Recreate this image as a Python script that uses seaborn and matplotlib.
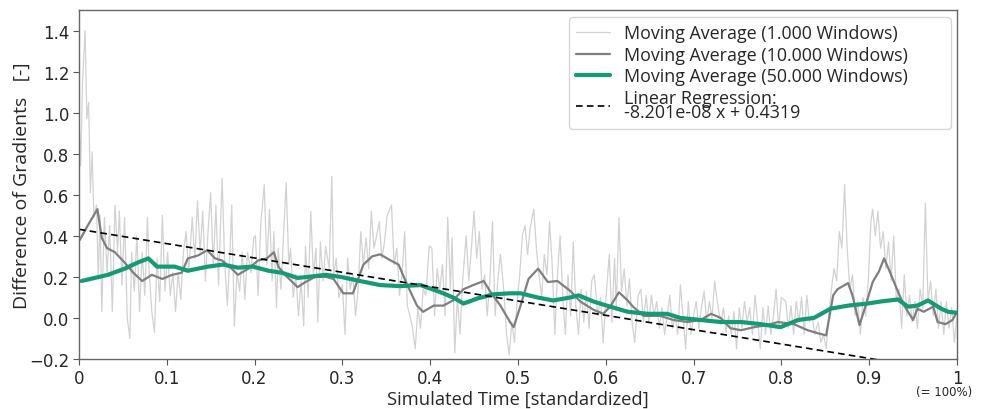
import numpy as np
import pandas as pd
import matplotlib
matplotlib.use("Agg")
import matplotlib.pyplot as plt
import seaborn as sns

# ---------------- data ----------------
ma1000_x = [0.0006, 0.002, 0.004, 0.007, 0.009, 0.011, 0.013, 0.015, 0.017, 0.020, 0.022, 0.024, 0.026, 0.029,
            0.032, 0.035, 0.038, 0.041, 0.044, 0.046, 0.049, 0.052, 0.055, 0.058, 0.060, 0.063, 0.066, 0.069,
            0.072, 0.075, 0.078, 0.080, 0.083, 0.086, 0.089, 0.092, 0.095, 0.098, 0.101, 0.104, 0.107, 0.110,
            0.113, 0.116, 0.119, 0.122, 0.125, 0.129, 0.132, 0.135, 0.138, 0.141, 0.144, 0.147, 0.150, 0.153,
            0.156, 0.159, 0.163, 0.166, 0.169, 0.172, 0.174, 0.177, 0.180, 0.183, 0.186, 0.189, 0.192, 0.196,
            0.199,
            0.201, 0.204, 0.207, 0.211, 0.214, 0.217, 0.220, 0.222, 0.225, 0.227, 0.230, 0.233, 0.236, 0.239,
            0.241, 0.244, 0.247, 0.250, 0.253, 0.256, 0.258, 0.261, 0.264, 0.267, 0.270, 0.272, 0.275, 0.278,
            0.281, 0.285, 0.288, 0.290, 0.293, 0.296, 0.300, 0.303, 0.306, 0.309, 0.312, 0.315, 0.318, 0.321,
            0.324, 0.327, 0.330, 0.333, 0.336, 0.339, 0.342, 0.345, 0.348, 0.351, 0.356, 0.359, 0.362, 0.365,
            0.368, 0.371, 0.374, 0.377, 0.380, 0.383, 0.386, 0.389, 0.392, 0.395, 0.399,
            0.402, 0.405, 0.408, 0.411, 0.414, 0.417, 0.420, 0.423, 0.425, 0.428, 0.431, 0.434, 0.437, 0.441,
            0.444, 0.447, 0.450, 0.453, 0.456, 0.459, 0.462, 0.465, 0.468, 0.471, 0.474, 0.477, 0.480, 0.484,
            0.487, 0.490, 0.493, 0.496, 0.499, 0.502, 0.505, 0.508, 0.511, 0.514, 0.518, 0.521, 0.524, 0.527,
            0.530, 0.533, 0.536, 0.539, 0.542, 0.545, 0.548, 0.551, 0.554, 0.557, 0.560, 0.563, 0.566, 0.569,
            0.572, 0.575, 0.578, 0.581, 0.584, 0.587, 0.591, 0.594, 0.597, 0.600,
            0.604, 0.607, 0.610, 0.612, 0.615, 0.618, 0.621, 0.624, 0.627, 0.630, 0.633, 0.637, 0.640, 0.643,
            0.646, 0.649, 0.652, 0.655, 0.658, 0.661, 0.664, 0.667, 0.670, 0.673, 0.676, 0.679, 0.682, 0.685,
            0.688, 0.691, 0.694, 0.697, 0.700, 0.703, 0.706, 0.709, 0.712, 0.715, 0.718, 0.721, 0.724, 0.727,
            0.731, 0.734, 0.737, 0.740, 0.743, 0.746, 0.749, 0.752, 0.755, 0.758, 0.761, 0.764, 0.767, 0.770,
            0.773, 0.776, 0.779, 0.782, 0.785, 0.788, 0.791, 0.794, 0.797, 0.800,
            0.805, 0.808, 0.811, 0.814, 0.817, 0.820, 0.823, 0.826, 0.829, 0.832, 0.835, 0.838, 0.842, 0.845,
            0.848, 0.851, 0.854, 0.857, 0.860, 0.863, 0.866, 0.869, 0.872, 0.875, 0.878, 0.881, 0.884, 0.887,
            0.890, 0.893, 0.896, 0.899, 0.902, 0.904, 0.907, 0.910, 0.913, 0.916, 0.919, 0.922, 0.925, 0.928,
            0.931, 0.934, 0.937, 0.940, 0.943, 0.946, 0.949, 0.952, 0.955, 0.958, 0.961, 0.964, 0.967, 0.970,
            0.973, 0.976, 0.979, 0.982, 0.985, 0.988, 0.991, 0.994, 0.997, 1.000]
ma1000_y = [0.92, 0.74, 1.14, 1.40, 0.97, 1.05, 0.61, 0.81, 0.49, 0.55, 0.19, 0.50, 0.03, 0.49,
            0.22, 0.45, 0.03, 0.55, 0.32, 0.52, 0.16, 0.49, 0.00, -0.10, 0.32, 0.13, 0.40, 0.03,
            0.32, 0.11, 0.49, 0.22, 0.03, -0.07, 0.29, 0.08, 0.50, 0.13, 0.32, 0.11, 0.22, 0.03,
            0.22, 0.09, 0.32, 0.42, 0.22, 0.49, 0.29, 0.57, 0.32, 0.52, 0.18, 0.42, 0.61, 0.25,
            0.55, 0.16, 0.68, 0.27, 0.06, 0.32, 0.55, -0.04, 0.22, 0.13, 0.32, 0.09, 0.32, 0.22,
            0.39,
            0.40, 0.11, 0.45, 0.65, 0.26, 0.53, 0.18, 0.42, 0.05, 0.34, 0.14, 0.40, 0.66, 0.26,
            0.34, 0.10, 0.21, 0.01, 0.18, -0.04, 0.35, 0.10, 0.52, 0.21, 0.34, -0.02, 0.37, 0.18,
            0.35, 0.24, 0.69, 0.21, 0.29, 0.10, 0.16, -0.08, 0.29, 0.14, 0.21, 0.01, 0.14, 0.42,
            0.26, 0.39, 0.24, 0.52, 0.34, 0.40, 0.47, 0.29, 0.37, 0.50, 0.55, 0.26, 0.34, 0.11,
            0.21, 0.42, 0.06, 0.01, -0.05, -0.15, 0.05, -0.05, 0.14, 0.11, 0.35,
            0.34, 0.01, 0.24, 0.14, 0.26, 0.01, 0.49, 0.14, 0.39, -0.17, 0.10, -0.08, 0.18, 0.40,
            0.18, 0.34, 0.52, 0.29, 0.42, 0.14, 0.21, 0.01, 0.18, 0.47, 0.01, 0.18, 0.31, 0.13,
            -0.08, -0.18, -0.02, -0.12, 0.08, 0.21, 0.40, 0.45, 0.31, 0.44, 0.53, 0.34, 0.21, 0.10,
            0.31, 0.21, 0.47, 0.26, -0.08, 0.21, 0.40, 0.10, -0.08, 0.21, 0.01, 0.37, 0.05, -0.08,
            0.14, -0.02, 0.13, -0.05, 0.18, 0.21, 0.01, 0.10, -0.12, 0.08,
            0.31, -0.02, 0.29, 0.05, 0.49, 0.13, 0.24, 0.06, 0.19, -0.02, -0.12, 0.11, 0.14, -0.02,
            0.11, -0.02, 0.11, 0.01, 0.08, -0.05, 0.05, -0.08, 0.01, 0.11, -0.05, 0.01, -0.08, 0.16,
            0.01, -0.15, 0.08, -0.08, 0.01, 0.08, -0.05, 0.05, 0.13, -0.02, 0.08, 0.00, 0.18, 0.08,
            -0.03, 0.05, -0.07, 0.01, -0.08, 0.03, -0.15, 0.05, -0.05, 0.08, -0.02, 0.05, -0.08, 0.11,
            -0.02, -0.15, 0.05, -0.08, 0.06, -0.08, 0.01, 0.14, -0.05, 0.10,
            0.08, -0.05, 0.06, -0.08, 0.08, -0.02, 0.10, -0.08, 0.11, -0.02, 0.01, -0.08, -0.02, -0.12,
            -0.08, -0.15, 0.01, 0.14, 0.24, 0.18, 0.42, 0.34, 0.65, 0.34, 0.14, 0.21, 0.01, 0.08,
            -0.08, 0.10, 0.01, 0.18, 0.47, 0.53, 0.40, 0.52, 0.34, 0.42, 0.24, 0.37, 0.18, 0.40,
            0.08, 0.14, -0.05, 0.21, 0.01, 0.11, -0.02, 0.08, -0.05, 0.14, 0.05, 0.56, 0.08, 0.18,
            0.01, 0.14, -0.05, 0.08, -0.08, 0.08, -0.05, 0.05, -0.12, 0.01]

ma10000_x = [0.001, 0.010, 0.021, 0.026, 0.032, 0.041, 0.052, 0.062, 0.072, 0.083, 0.095, 0.106, 0.117,
             0.124, 0.136, 0.146, 0.155, 0.163, 0.174, 0.181, 0.193, 0.204, 0.214, 0.222, 0.227, 0.237,
             0.249, 0.258, 0.269, 0.281, 0.290, 0.301, 0.312, 0.324, 0.334, 0.343, 0.355, 0.364, 0.374,
             0.385, 0.392, 0.404, 0.415, 0.426, 0.438, 0.449, 0.461, 0.469, 0.480, 0.491, 0.495, 0.503,
             0.512, 0.523, 0.534, 0.545, 0.560, 0.571, 0.586, 0.597, 0.605, 0.615, 0.625, 0.631, 0.643,
             0.662, 0.677, 0.693, 0.708, 0.720, 0.731, 0.742, 0.754, 0.769, 0.784, 0.796, 0.814, 0.830,
             0.842, 0.851, 0.859, 0.864, 0.876, 0.881, 0.889, 0.896, 0.904, 0.911, 0.917, 0.925, 0.933,
             0.940, 0.950, 0.955, 0.962, 0.973, 0.978, 0.987, 0.995, 1.000]
ma10000_y = [0.38, 0.45, 0.53, 0.39, 0.34, 0.32, 0.27, 0.22, 0.18, 0.21, 0.19, 0.21, 0.22,
             0.29, 0.305, 0.33, 0.29, 0.28, 0.24, 0.21, 0.24, 0.28, 0.29, 0.32, 0.25, 0.20,
             0.15, 0.175, 0.20, 0.20, 0.19, 0.12, 0.12, 0.26, 0.30, 0.31, 0.28, 0.26, 0.16,
             0.06, 0.03, 0.06, 0.06, 0.085, 0.14, 0.16, 0.18, 0.125, 0.06, -0.02, -0.045, 0.06,
             0.19, 0.24, 0.175, 0.18, 0.13, 0.08, 0.04, 0.02, 0.055, 0.125, 0.085, 0.055, 0.01,
             0.01, -0.01, -0.02, -0.01, 0.02, 0.00, -0.05, -0.06, -0.045, -0.035, -0.02, -0.03, -0.06,
             -0.075, -0.085, 0.11, 0.14, 0.17, 0.11, -0.035, 0.06, 0.175, 0.225, 0.29, 0.21, 0.125,
             0.06, -0.01, 0.045, 0.03, 0.055, -0.02, -0.03, -0.01, 0.03]

ma50000_x = [0.003, 0.018, 0.033, 0.052, 0.067, 0.079, 0.089, 0.109, 0.124, 0.147, 0.164, 0.181, 0.198,
             0.216, 0.231, 0.249, 0.261, 0.281, 0.298, 0.320, 0.343, 0.366, 0.389, 0.412, 0.426, 0.438,
             0.454, 0.472, 0.491, 0.503, 0.522, 0.540, 0.560, 0.569, 0.586, 0.605, 0.625, 0.648, 0.670,
             0.685, 0.708, 0.731, 0.754, 0.776, 0.799, 0.819, 0.837, 0.856, 0.876, 0.898, 0.913, 0.933,
             0.944, 0.955, 0.967, 0.982, 0.990, 1.000]
ma50000_y = [0.18, 0.195, 0.21, 0.24, 0.27, 0.29, 0.25, 0.25, 0.23, 0.25, 0.26, 0.245, 0.25,
             0.23, 0.22, 0.195, 0.20, 0.21, 0.20, 0.18, 0.16, 0.155, 0.16, 0.125, 0.10, 0.07,
             0.095, 0.115, 0.12, 0.12, 0.10, 0.085, 0.10, 0.11, 0.08, 0.055, 0.03, 0.02, 0.02,
             0.00, -0.01, -0.02, -0.02, -0.03, -0.045, -0.01, 0.00, 0.045, 0.06, 0.07, 0.08, 0.09,
             0.055, 0.06, 0.085, 0.045, 0.03, 0.025]

reg_slope = -8.201e-08
reg_intercept = 0.4319
n_samples = 8_520_000

labels = ["Moving Average (1.000 Windows)", "Moving Average (10.000 Windows)",
          "Moving Average (50.000 Windows)", "Linear Regression:\n-8.201e-08 x + 0.4319"]
xtick_vals = [0, 0.1, 0.2, 0.3, 0.4, 0.5, 0.6, 0.7, 0.8, 0.9, 1]
xtick_labels = ["0", "0.1", "0.2", "0.3", "0.4", "0.5", "0.6", "0.7", "0.8", "0.9", "1"]

# ---------------- plot ----------------
sns.set_style("ticks")
plt.rcParams["font.family"] = ["DejaVu Sans"]

fig = plt.figure(figsize=(9.82, 4.10), dpi=100)
ax = fig.add_axes([0.0804, 0.122, 0.8941, 0.851])

df1 = pd.DataFrame({"x": ma1000_x, "y": ma1000_y})
df2 = pd.DataFrame({"x": ma10000_x, "y": ma10000_y})
df3 = pd.DataFrame({"x": ma50000_x, "y": ma50000_y})
reg_x = np.array([0.0, 1.0])
df4 = pd.DataFrame({"x": reg_x, "y": reg_slope * reg_x * n_samples + reg_intercept})

sns.lineplot(data=df1, x="x", y="y", ax=ax, color="#d2d2d2", lw=0.9, estimator=None, sort=False, label=labels[0])
sns.lineplot(data=df2, x="x", y="y", ax=ax, color="#7f7f7f", lw=1.6, estimator=None, sort=False, label=labels[1])
sns.lineplot(data=df3, x="x", y="y", ax=ax, color="#159a76", lw=3.0, estimator=None, sort=False, label=labels[2])
sns.lineplot(data=df4, x="x", y="y", ax=ax, color="black", lw=1.2, ls="--", estimator=None, sort=False, label=labels[3])
ax.lines[-1].set_dashes([4, 2.5])

ax.set_xlim(0, 1)
ax.set_ylim(-0.2, 1.5)
ax.set_yticks(np.arange(-0.2, 1.41, 0.2))
ax.set_xticks(xtick_vals)
ax.set_xticklabels(xtick_labels)
ax.tick_params(labelsize=12, length=4, color="#555555", pad=3)
for sp in ax.spines.values():
    sp.set_color("#666666")
    sp.set_linewidth(1.0)

ax.set_xlabel("Simulated Time [standardized]", family=["Open Sans", "DejaVu Sans"], size=13.2, labelpad=2)
ax.set_ylabel("Difference of Gradients   [-]", family=["Open Sans", "DejaVu Sans"], size=14, labelpad=-1)
ax.text(0.985, -0.075, "(= 100%)", transform=ax.transAxes, ha="center", va="top", fontsize=8.5)

leg = ax.legend(loc="upper left", bbox_to_anchor=(0.5576, 0.653, 0.4356, 0.327), mode="expand",
                prop={"family": ["Open Sans", "DejaVu Sans"], "size": 12.9},
                handlelength=1.9, handletextpad=0.8, frameon=True, borderaxespad=0.0,
                labelspacing=0.2, borderpad=0.4)
leg.get_frame().set_edgecolor("#cccccc")
for t in leg.get_texts():
    t.set_linespacing(0.75)

fig.savefig("out.png", dpi=100)
